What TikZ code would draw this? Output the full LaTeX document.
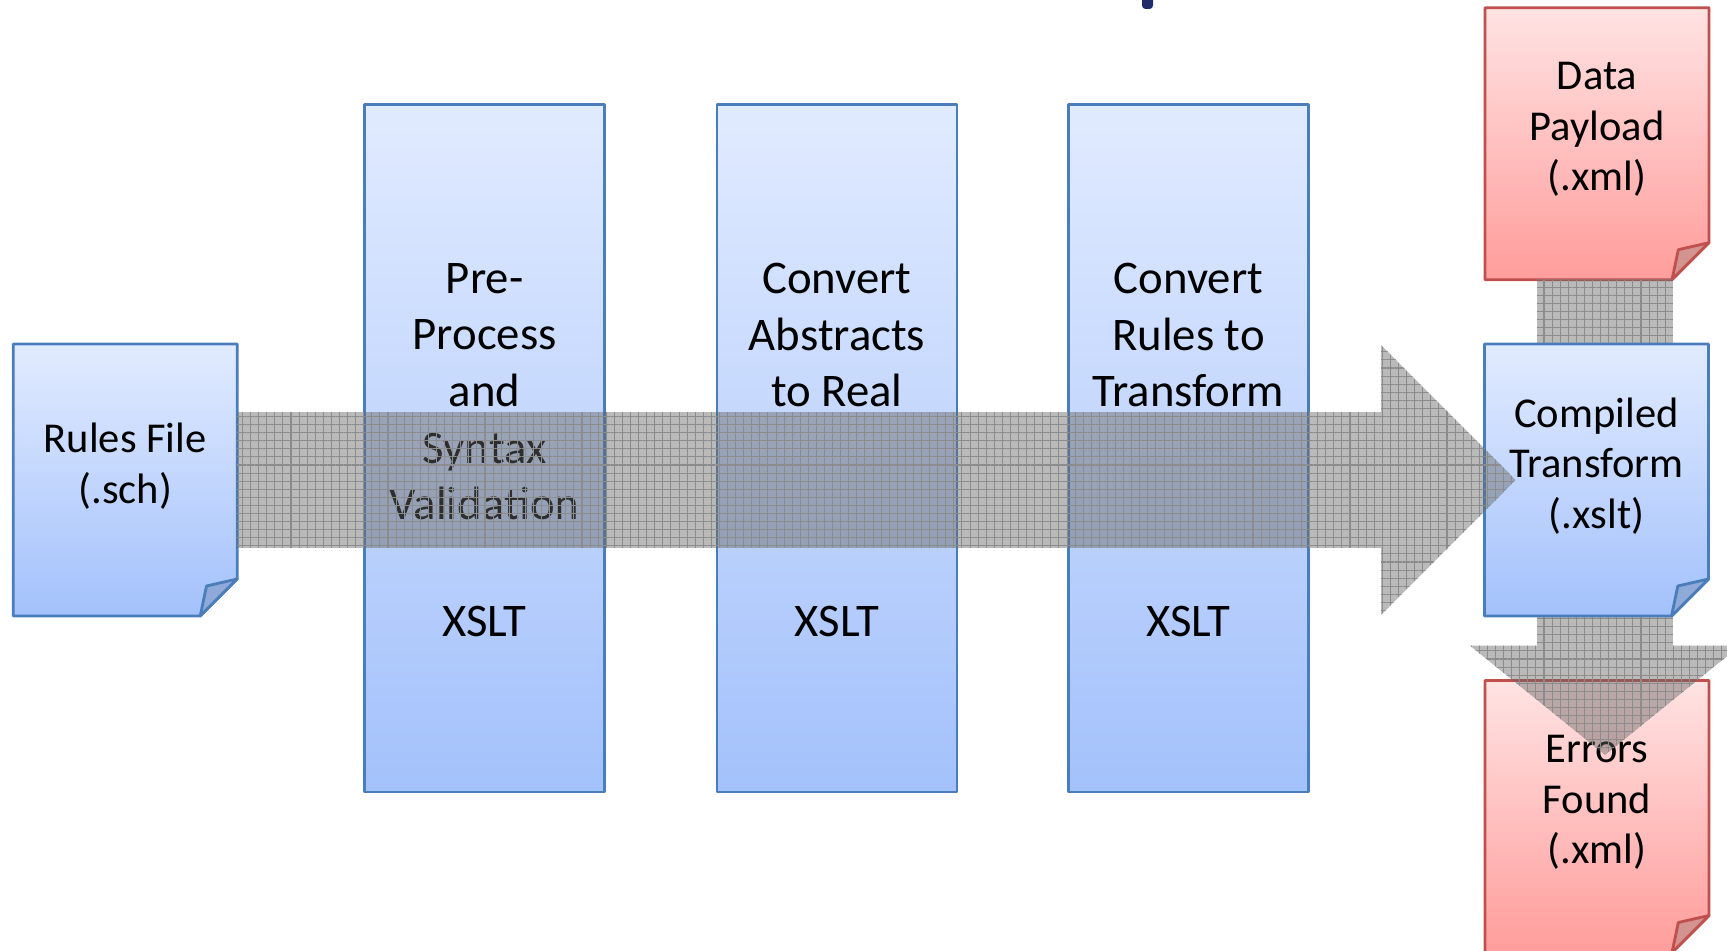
\documentclass[tikz,border=0pt]{standalone}
\usepackage{fontspec}
\setmainfont{Carlito}
\usetikzlibrary{patterns.meta}
\definecolor{pageblue}{HTML}{4A7EBB}
\definecolor{blueTop}{HTML}{E1EBFF}
\definecolor{blueBot}{HTML}{A3C1FB}
\definecolor{foldblue}{HTML}{8FA9D9}
\definecolor{pagered}{HTML}{C0504D}
\definecolor{redTop}{HTML}{FFE3E3}
\definecolor{redBot}{HTML}{FF9D9B}
\definecolor{foldred}{HTML}{D39391}
\definecolor{titlenavy}{HTML}{1F2D6B}
\def\fold{0.37cm}
% sheet with its lower right corner turned up
\newcommand\paper[2]{%
  \draw[page#2, line width=0.8pt, line join=round, top color=#2Top, bottom color=#2Bot]
    (#1.north west) -- (#1.north east) -- ([yshift=\fold]#1.south east)
    -- ([xshift=-\fold]#1.south east) -- (#1.south west) -- cycle;
  \draw[page#2, line width=0.8pt, line join=round, fill=fold#2]
    ([yshift=\fold]#1.south east) -- ([shift={(-0.307,0.30)}]#1.south east)
    -- ([xshift=-\fold]#1.south east) -- cycle;}
\begin{document}
\begin{tikzpicture}[line join=round,
  paper/.style={minimum width=2.24cm, minimum height=2.72cm, inner sep=0pt, outer sep=0pt},
  pagetext/.style={font=\fontsize{12.1}{14.4}\selectfont, align=center, inner sep=0pt},
  stage/.style={draw=pageblue, line width=0.8pt, top color=blueTop, bottom color=blueBot,
    minimum width=2.4cm, minimum height=6.874cm, inner sep=0pt},
  stagetitle/.style={font=\fontsize{13.3}{16.1}\selectfont, align=center, inner sep=0pt, anchor=north},
  stagetext/.style={font=\fontsize{13.3}{16}\selectfont, inner sep=0pt},
  band/.style={fill=gray!80!black, fill opacity=0.45,
    postaction={pattern={Hatch[angle=0,distance=2.3pt,line width=0.3pt]}, pattern color=black!45}}]
\def\bw{0.678cm} \def\hw{1.35cm}
\useasboundingbox (0,0) rectangle (17.27,9.5);
\fill[titlenavy, rounded corners=1pt] (11.42,9.41) rectangle (11.53,9.6);

% the three XSLT passes
\foreach \x/\n/\t in {4.846/pre/{Pre-\\Process\\and\\Syntax\\Validation},
    8.37/abs/{Convert\\Abstracts\\to Real}, 11.884/rul/{Convert\\Rules to\\Transform}} {
  \node[stage] (\n) at (\x,5.017) {};
  \node[stagetitle] (\n-title) at (\x,6.873) {\t};
  \node[stagetext] (\n-xslt) at (\x,3.283) {XSLT};
}

% input data and error report
\node[paper] (data) at (15.97,8.063) {};
\node[paper] (errors) at (15.97,1.335) {};
\paper{data}{red}
\paper{errors}{red}
\node[pagetext] (data-t) at ([yshift=0.14cm]data.center) {Data\\Payload\\(.xml)};
\node[pagetext] (errors-t) at ([yshift=0.14cm]errors.center) {Errors\\Found\\(.xml)};

% data runs through the compiled transform
\coordinate (vbase) at (16.05,3.043);
\coordinate (vtip) at (16.05,1.95);
\coordinate (vtop) at (vbase |- data.south);
\fill[band] ([xshift=-\bw]vtop) -- ([xshift=-\bw]vbase) -- ([xshift=-\hw]vbase) -- (vtip)
  -- ([xshift=\hw]vbase) -- ([xshift=\bw]vbase) -- ([xshift=\bw]vtop) -- cycle;

% schematron in, xslt out
\node[paper] (rules) at (1.252,4.70) {};
\node[paper] (compiled) at (15.965,4.70) {};
\paper{rules}{blue}
\paper{compiled}{blue}
\node[pagetext] (rules-t) at ([yshift=0.14cm]rules.center) {Rules File\\(.sch)};
\node[pagetext] (compiled-t) at ([yshift=0.14cm]compiled.center) {Compiled\\Transform\\(.xslt)};

\coordinate (hbase) at (13.81,4.70);
\coordinate (htip) at (15.157,4.70);
\fill[band] ([yshift=\bw]rules.east) -- ([yshift=\bw]hbase) -- ([yshift=\hw]hbase) -- (htip)
  -- ([yshift=-\hw]hbase) -- ([yshift=-\bw]hbase) -- ([yshift=-\bw]rules.east) -- cycle;
\end{tikzpicture}
\end{document}
